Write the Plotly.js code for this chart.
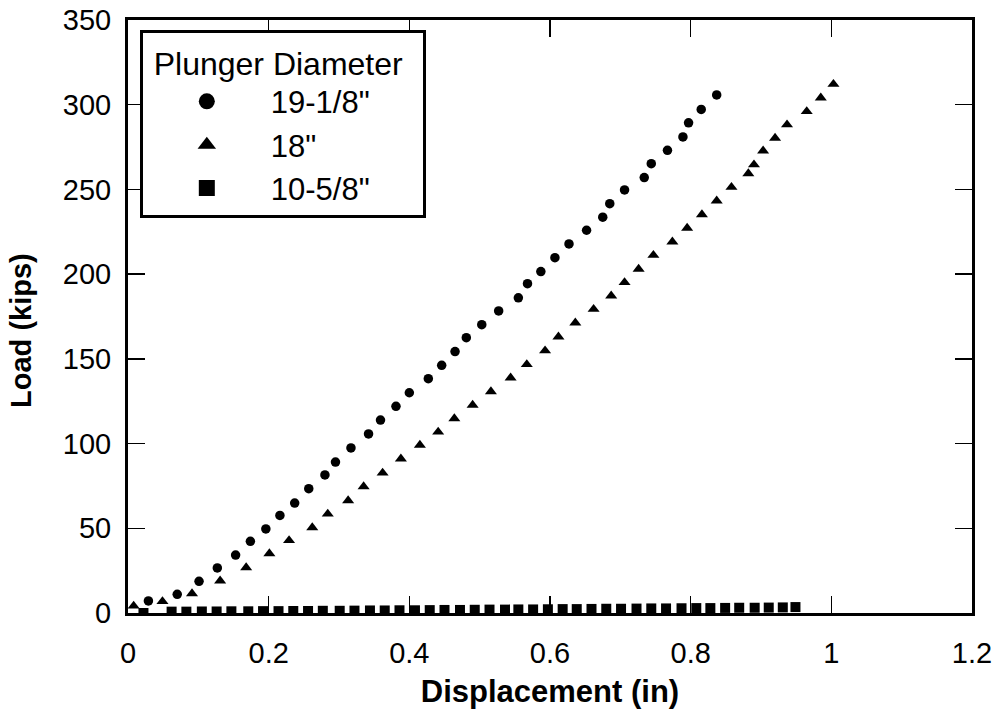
<!DOCTYPE html>
<html>
<head>
<meta charset="utf-8">
<script src="https://cdn.plot.ly/plotly-3.0.1.min.js"></script>
<style>
  html, body { margin: 0; padding: 0; background: #ffffff; }
  #chart { width: 998px; height: 709px; }
</style>
</head>
<body>
<div id="chart"></div>
<script>
// Plunger 19-1/8" (circles)
const circX = [0.029, 0.070, 0.101, 0.127, 0.153, 0.174, 0.196, 0.216, 0.237, 0.257, 0.280, 0.295, 0.317, 0.342, 0.359, 0.381, 0.400, 0.427, 0.446, 0.465, 0.481, 0.503, 0.527, 0.555, 0.568, 0.587, 0.607, 0.627, 0.652, 0.675, 0.685, 0.706, 0.734, 0.744, 0.767, 0.789, 0.797, 0.815, 0.837];
const circY = [7.1, 11.0, 18.7, 26.6, 34.2, 42.3, 49.6, 57.6, 64.9, 73.4, 81.5, 89.1, 97.4, 105.7, 113.9, 122.0, 130.0, 138.3, 146.2, 154.3, 162.5, 170.2, 178.3, 186.0, 194.4, 201.5, 209.7, 217.8, 225.9, 233.6, 241.6, 249.7, 257.0, 265.2, 273.1, 281.0, 289.3, 297.2, 305.8];

// Plunger 18" (triangles)
const triX = [0.008, 0.049, 0.091, 0.131, 0.168, 0.201, 0.229, 0.262, 0.284, 0.313, 0.335, 0.362, 0.388, 0.415, 0.441, 0.464, 0.490, 0.516, 0.544, 0.567, 0.593, 0.612, 0.636, 0.662, 0.687, 0.706, 0.726, 0.747, 0.774, 0.795, 0.816, 0.837, 0.858, 0.882, 0.890, 0.903, 0.920, 0.937, 0.965, 0.985, 1.003];
const triY = [4.2, 6.8, 11.5, 19.0, 26.8, 35.1, 42.8, 50.4, 58.5, 66.4, 74.6, 82.7, 91.0, 99.1, 106.9, 114.8, 122.7, 130.7, 138.8, 146.7, 154.8, 163.0, 171.3, 179.3, 187.2, 195.1, 203.0, 211.2, 219.1, 227.2, 235.2, 243.3, 251.3, 259.4, 264.6, 272.8, 280.3, 288.2, 296.0, 304.1, 312.1];

// Plunger 10-5/8" (squares)
const sqX = [0.022, 0.062, 0.083, 0.105, 0.126, 0.147, 0.171, 0.192, 0.214, 0.235, 0.256, 0.277, 0.301, 0.322, 0.344, 0.365, 0.386, 0.408, 0.429, 0.450, 0.472, 0.493, 0.514, 0.536, 0.555, 0.576, 0.597, 0.618, 0.638, 0.659, 0.680, 0.701, 0.723, 0.744, 0.765, 0.787, 0.808, 0.828, 0.849, 0.869, 0.891, 0.911, 0.931, 0.949];
const sqY = [0.0, 0.8, 0.8, 0.9, 0.9, 1.0, 1.0, 1.1, 1.1, 1.2, 1.2, 1.3, 1.3, 1.4, 1.5, 1.5, 1.6, 1.6, 1.7, 1.8, 1.8, 1.9, 2.0, 2.0, 2.1, 2.1, 2.2, 2.3, 2.3, 2.4, 2.5, 2.5, 2.6, 2.7, 2.7, 2.8, 2.9, 2.9, 3.0, 3.1, 3.1, 3.2, 3.3, 3.5];

const seriesNames = ['19-1/8"', '18"', '10-5/8"'];
const seriesSymbols = ['circle', 'triangle-up', 'square'];
const legendTitle = 'Plunger Diameter';
const xTitle = 'Displacement (in)';
const yTitle = 'Load (kips)';

const FONT = '"Liberation Sans", Arial, Helvetica, sans-serif';
const NBSP = '\u00a0';

const dataX = [circX, triX, sqX];
const dataY = [circY, triY, sqY];
const markSizes = [9.5, 10.5, 10];

const traces = [];
// data traces (not in legend)
for (let i = 0; i < 3; i++) {
  traces.push({
    x: dataX[i], y: dataY[i], name: seriesNames[i], type: 'scatter', mode: 'markers',
    showlegend: false, legendgroup: 'g' + i,
    marker: { symbol: seriesSymbols[i], size: markSizes[i], color: '#000000' }
  });
}
// legend-key traces (no points, larger key symbols)
for (let i = 0; i < 3; i++) {
  traces.push({
    x: [null], y: [null], name: seriesNames[i], type: 'scatter', mode: 'markers',
    showlegend: true, legendgroup: 'g' + i,
    marker: { symbol: seriesSymbols[i], size: 20, color: '#000000' }
  });
}

const axisCommon = {
  showline: true, linecolor: '#000000', linewidth: 3,
  mirror: 'ticks', ticks: 'inside', ticklen: 17, tickwidth: 1.5, tickcolor: '#000000',
  showgrid: false, zeroline: false,
  tickfont: { family: FONT, size: 29, color: '#000000' }
};

const layout = {
  width: 998, height: 709,
  margin: { l: 128, r: 26, t: 20, b: 96 },
  paper_bgcolor: '#ffffff', plot_bgcolor: '#ffffff',
  font: { family: FONT, color: '#000000' },
  showlegend: true,
  xaxis: Object.assign({}, axisCommon, {
    range: [0, 1.2], dtick: 0.2, tick0: 0,
    ticklabelstandoff: 12,
    title: { text: xTitle, font: { family: FONT, size: 31, weight: 'bold', color: '#000000' }, standoff: 14 }
  }),
  yaxis: Object.assign({}, axisCommon, {
    range: [0, 350], dtick: 50, tick0: 0,
    ticklabelstandoff: 8
  }),
  annotations: [{
    text: yTitle, xref: 'paper', yref: 'paper', x: -0.127, y: 0.477,
    xanchor: 'center', yanchor: 'middle', textangle: -90, showarrow: false,
    font: { family: FONT, size: 29, weight: 'bold', color: '#000000' }
  }],
  legend: {
    x: 0.014, y: 0.983, xanchor: 'left', yanchor: 'top',
    bgcolor: '#ffffff', bordercolor: '#000000', borderwidth: 3,
    font: { family: FONT, size: 31, color: '#000000' },
    title: { text: NBSP + legendTitle + NBSP + NBSP, font: { family: FONT, size: 32, color: '#000000' } },
    itemsizing: 'trace', itemwidth: 118,
    tracegroupgap: 0
  }
};

Plotly.newPlot('chart', traces, layout, { staticPlot: true, displayModeBar: false });
</script>
</body>
</html>
